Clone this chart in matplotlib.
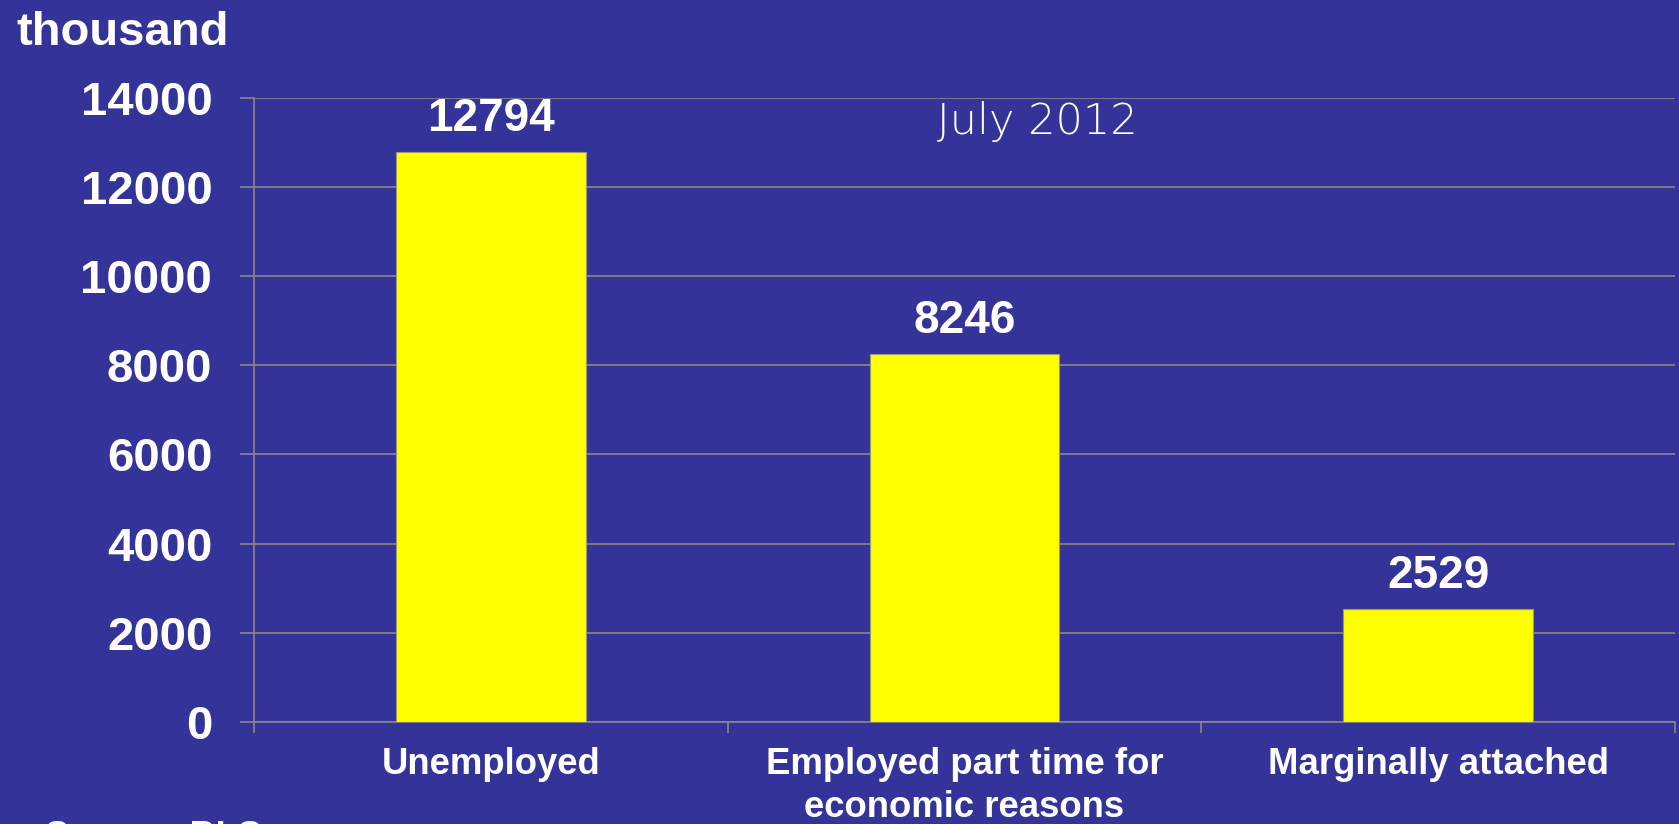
import matplotlib.pyplot as plt
from matplotlib.ticker import FixedLocator, NullFormatter

categories = ["Unemployed", "Employed part time for\neconomic reasons", "Marginally attached"]
values = [12794, 8246, 2529]
yticks = [0, 2000, 4000, 6000, 8000, 10000, 12000, 14000]

bg = "#333399"
grid_col = "#888888"

plt.rcParams["font.family"] = ["Liberation Sans", "DejaVu Sans"]

fig = plt.figure(figsize=(16.79, 8.24), dpi=100, facecolor=bg)
ax = fig.add_axes([0.1513, 0.1238, 0.9976 - 0.1513, 0.8814 - 0.1238], facecolor=bg)

x = range(len(categories))
bars = ax.bar(x, values, width=0.4, color="#FFFF00", edgecolor="#9a9a6a", linewidth=0.8, zorder=3)

for xi, v in zip(x, values):
    ax.annotate(str(v), (xi, v), xytext=(0, 15), textcoords="offset points",
                ha="center", va="baseline", color="white", fontsize=33, fontweight="bold")

ax.set_xlim(-0.5, len(categories) - 0.5)
ax.set_ylim(0, 14000)
ax.set_yticks(yticks)
ax.set_yticklabels([str(t) for t in yticks])

# category boundaries carry the tick marks, labels sit at bar centres
ax.xaxis.set_major_locator(FixedLocator([-0.5, 0.5, 1.5, 2.5]))
ax.xaxis.set_major_formatter(NullFormatter())
ax.xaxis.set_minor_locator(FixedLocator(list(x)))
ax.set_xticklabels(categories, minor=True)
ax.tick_params(axis="x", which="major", length=8, width=1.2, color=grid_col, direction="out")
ax.tick_params(axis="x", which="minor", length=0, pad=18, labelsize=26.3, labelcolor="white")
for lbl in ax.get_xticklabels(minor=True):
    lbl.set_fontweight("bold")
    lbl.set_linespacing(1.28)

ax.tick_params(axis="y", length=10, width=1.2, color=grid_col, pad=20, labelsize=34, labelcolor="white")
for lbl in ax.get_yticklabels():
    lbl.set_fontweight("bold")

ax.grid(axis="y", color=grid_col, linewidth=1.2, zorder=0)
ax.set_axisbelow(True)
for side in ["top", "right"]:
    ax.spines[side].set_visible(False)
for side in ["left", "bottom"]:
    ax.spines[side].set_color(grid_col)
    ax.spines[side].set_linewidth(1.2)

fig.text(16 / 1679, 1 - 45 / 824, "thousand", color="white", fontsize=34, fontweight="bold",
         ha="left", va="baseline")
fig.text(1037 / 1679, 1 - 134 / 824, "July 2012", color="white", fontsize=31,
         family=["DejaVu Sans"], fontweight="light", ha="center", va="baseline")
fig.text(45 / 1679, 1 - 820 / 824, "Source: BLS", color="white", fontsize=26, fontweight="bold",
         ha="left", va="top")

fig.savefig("out.png", dpi=100, facecolor=bg)
